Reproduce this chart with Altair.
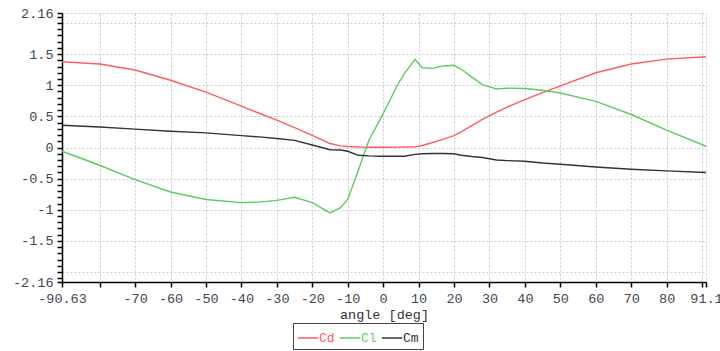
import altair as alt
import pandas as pd

# Airfoil polar: angle of attack vs. force/moment coefficients
angle = [-90.63, -80, -70, -60, -50, -40, -35, -30, -25, -20, -15, -12, -10, -7, -4, -1,
         2, 4, 6, 9, 11, 14, 17, 20, 22, 25, 28, 32, 35, 40, 45, 50, 60, 70, 80, 91.1]
cd = [1.376, 1.34, 1.245, 1.08, 0.89, 0.665, 0.55, 0.44, 0.32, 0.195, 0.064, 0.026, 0.015, 0.008, 0.005, 0.004,
      0.005, 0.006, 0.008, 0.01, 0.033, 0.08, 0.135, 0.19, 0.25, 0.35, 0.45, 0.57, 0.65, 0.77, 0.88, 0.99, 1.2, 1.34, 1.42, 1.457]
cl = [-0.06, -0.285, -0.515, -0.714, -0.836, -0.885, -0.878, -0.85, -0.8, -0.885, -1.05, -0.965, -0.83, -0.365, 0.12, 0.435,
      0.77, 1.0, 1.19, 1.415, 1.28, 1.27, 1.31, 1.32, 1.26, 1.13, 1.01, 0.94, 0.953, 0.948, 0.92, 0.876, 0.74, 0.53, 0.278, 0.02]
cm = [0.358, 0.33, 0.295, 0.262, 0.235, 0.19, 0.17, 0.145, 0.115, 0.04, -0.035, -0.04, -0.06, -0.125, -0.135, -0.14,
      -0.14, -0.14, -0.14, -0.11, -0.1, -0.097, -0.097, -0.1, -0.125, -0.145, -0.16, -0.2, -0.21, -0.22, -0.25, -0.268, -0.312, -0.349, -0.376, -0.402]

series_names = ["Cd", "Cl", "Cm"]
series_colors = ["#ff5c5c", "#5fcb5f", "#333333"]

x_ticks = [-90.63, -80, -70, -60, -50, -40, -30, -20, -10, 0, 10, 20, 30, 40, 50, 60, 70, 80, 90, 91.1]
y_grid = [-2.16, -2, -1.5, -1, -0.5, 0, 0.5, 1, 1.5, 2, 2.16]
y_labelled = [-2.16, -1.5, -1, -0.5, 0, 0.5, 1, 1.5, 2.16]
y_minor = [-2.16] + [round(-2.1 + 0.1 * i, 2) for i in range(43)] + [2.16]

rows = []
for name, vals in zip(series_names, [cd, cl, cm]):
    for a, v in zip(angle, vals):
        rows.append({"angle": a, "value": v, "series": name})
df = pd.DataFrame(rows)

FONT = "Liberation Mono"
LABEL_COLOR = "#3f4653"
FS = 13.5

x_scale = alt.Scale(domain=[-90.63, 91.1], nice=False, zero=False)
y_scale = alt.Scale(domain=[-2.16, 2.16], nice=False, zero=False)

x_axis = alt.Axis(
    values=x_ticks,
    title="angle [deg]",
    labelExpr="(datum.value == -80 || datum.value == 90) ? '' : datum.value + ''",
    labelFont=FONT, labelFontSize=FS, labelColor=LABEL_COLOR,
    labelFlush=False, labelOverlap=False, labelPadding=4,
    titleFont=FONT, titleFontSize=FS, titleFontWeight="normal", titleColor="#333333",
    titlePadding=3,
    domainColor="#000000", domainWidth=1.5,
    tickColor="#000000", tickSize=5, tickWidth=1.5,
    grid=True, gridColor="#c9c9c9", gridDash=[2, 2], gridWidth=1,
)

y_axis_ticks = alt.Axis(
    values=y_minor,
    title=None,
    orient="left",
    labelExpr="indexof(" + str(y_labelled) + ", datum.value) >= 0 ? datum.value + '' : ''",
    labelFont=FONT, labelFontSize=FS, labelColor=LABEL_COLOR,
    labelFlush=False, labelOverlap=False, labelPadding=4,
    domainColor="#000000", domainWidth=1.5,
    tickColor="#000000", tickSize=5, tickWidth=1.5,
    grid=False,
)

y_axis_grid = alt.Axis(
    values=y_grid,
    title=None,
    orient="left",
    labels=False, ticks=False, domain=False,
    grid=True, gridColor="#c9c9c9", gridDash=[2, 2], gridWidth=1,
)

label_color_expr = (
    "datum.label == 'Cd' ? '" + series_colors[0] + "' : "
    "datum.label == 'Cl' ? '" + series_colors[1] + "' : '" + series_colors[2] + "'"
)

lines = alt.Chart(df).mark_line(strokeWidth=1.4).encode(
    x=alt.X("angle:Q", scale=x_scale, axis=x_axis),
    y=alt.Y("value:Q", scale=y_scale, axis=y_axis_ticks),
    color=alt.Color(
        "series:N",
        scale=alt.Scale(domain=series_names, range=series_colors),
        legend=alt.Legend(
            title=None,
            orient="none",
            legendX=231,
            legendY=310,
            direction="horizontal",
            symbolType="stroke",
            symbolSize=420,
            symbolStrokeWidth=1.5,
            labelFont=FONT,
            labelFontSize=13,
            labelColor={"expr": label_color_expr},
            labelOffset=0,
            columnPadding=1,
            padding=4,
            strokeColor="#444444",
            fillColor="#ffffff",
        ),
    ),
)

grid_layer = alt.Chart(df).mark_line(opacity=0).encode(
    x=alt.X("angle:Q", scale=x_scale, axis=x_axis),
    y=alt.Y("value:Q", scale=y_scale, axis=y_axis_grid),
    detail="series:N",
)

chart = (
    alt.layer(grid_layer, lines)
    .resolve_scale(y="shared")
    .resolve_axis(y="independent")
    .properties(
        width=644,
        height=269,
        autosize=alt.AutoSizeParams(type="none"),
        padding={"left": 62, "top": 13, "right": 14, "bottom": 69},
        background="#ffffff",
    )
    .configure_view(stroke=None)
)

chart.save("out.html", embed_options={"renderer": "svg", "actions": False})
